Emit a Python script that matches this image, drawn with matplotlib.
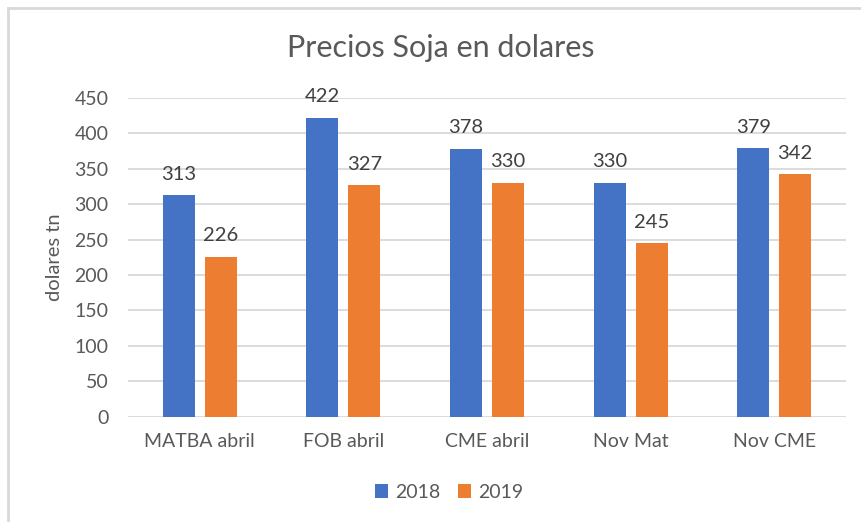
import matplotlib
matplotlib.use("Agg")
import matplotlib.pyplot as plt
import numpy as np
from matplotlib.lines import Line2D

categories = ["MATBA abril", "FOB abril", "CME abril", "Nov Mat", "Nov CME"]
series_names = ["2018", "2019"]
values_2018 = [313, 422, 378, 330, 379]
values_2019 = [226, 327, 330, 245, 342]
yticks = [0, 50, 100, 150, 200, 250, 300, 350, 400, 450]

plt.rcParams['font.family'] = ['Lato', 'DejaVu Sans']

fig = plt.figure(figsize=(8.61, 5.22), dpi=100)
ax = fig.add_axes([128/861, 1 - 416.7/522, (846-128)/861, (416.7-98)/522])

x = np.arange(len(categories))
w = 0.222
off = 0.146
colors = ["#4472C4", "#ED7D31"]
b1 = ax.bar(x - off, values_2018, w, color=colors[0], zorder=3, label=series_names[0])
b2 = ax.bar(x + off, values_2019, w, color=colors[1], zorder=3, label=series_names[1])

for bars in (b1, b2):
    for r in bars:
        ax.annotate(f"{int(r.get_height())}", (r.get_x() + r.get_width()/2, r.get_height()),
                    xytext=(0, 9), textcoords="offset points", ha="center", va="bottom",
                    fontsize=14.5, color="#404040")

ax.set_xlim(-0.5, len(categories) - 0.5)
ax.set_ylim(0, 450)
ax.set_yticks(yticks)
ax.set_xticks(x)
ax.set_xticklabels(categories)
ax.tick_params(axis='both', length=0, labelsize=14, labelcolor="#595959")
ax.tick_params(axis='y', pad=14)
ax.tick_params(axis='x', pad=12)
ax.grid(axis='y', color="#D9D9D9", linewidth=1.3, zorder=0)
for s in ax.spines.values():
    s.set_visible(False)

fig.text(55/861, 1 - 257/522, "dolares tn", rotation=90, ha="center", va="center",
         fontsize=14.5, color="#595959")

fig.text(441/861, 1 - 48/522, "Precios Soja en dolares", ha="center", va="center",
         fontsize=22, color="#595959")

leg = fig.legend(handles=[b1, b2], labels=series_names, loc="center",
                 bbox_to_anchor=(449/861, 1 - 492/522), ncol=2, frameon=False,
                 fontsize=14, handlelength=0.7, handleheight=0.7, columnspacing=0.9,
                 handletextpad=0.35)
for t in leg.get_texts():
    t.set_color("#595959")

# chart border (top and left visible)
fig.add_artist(Line2D([8/861, 1], [1 - 8/522, 1 - 8/522], color="#D9D9D9", linewidth=2, transform=fig.transFigure))
fig.add_artist(Line2D([8/861, 8/861], [0, 1 - 8/522], color="#D9D9D9", linewidth=2, transform=fig.transFigure))

fig.savefig("out.png", dpi=100, facecolor="white")
